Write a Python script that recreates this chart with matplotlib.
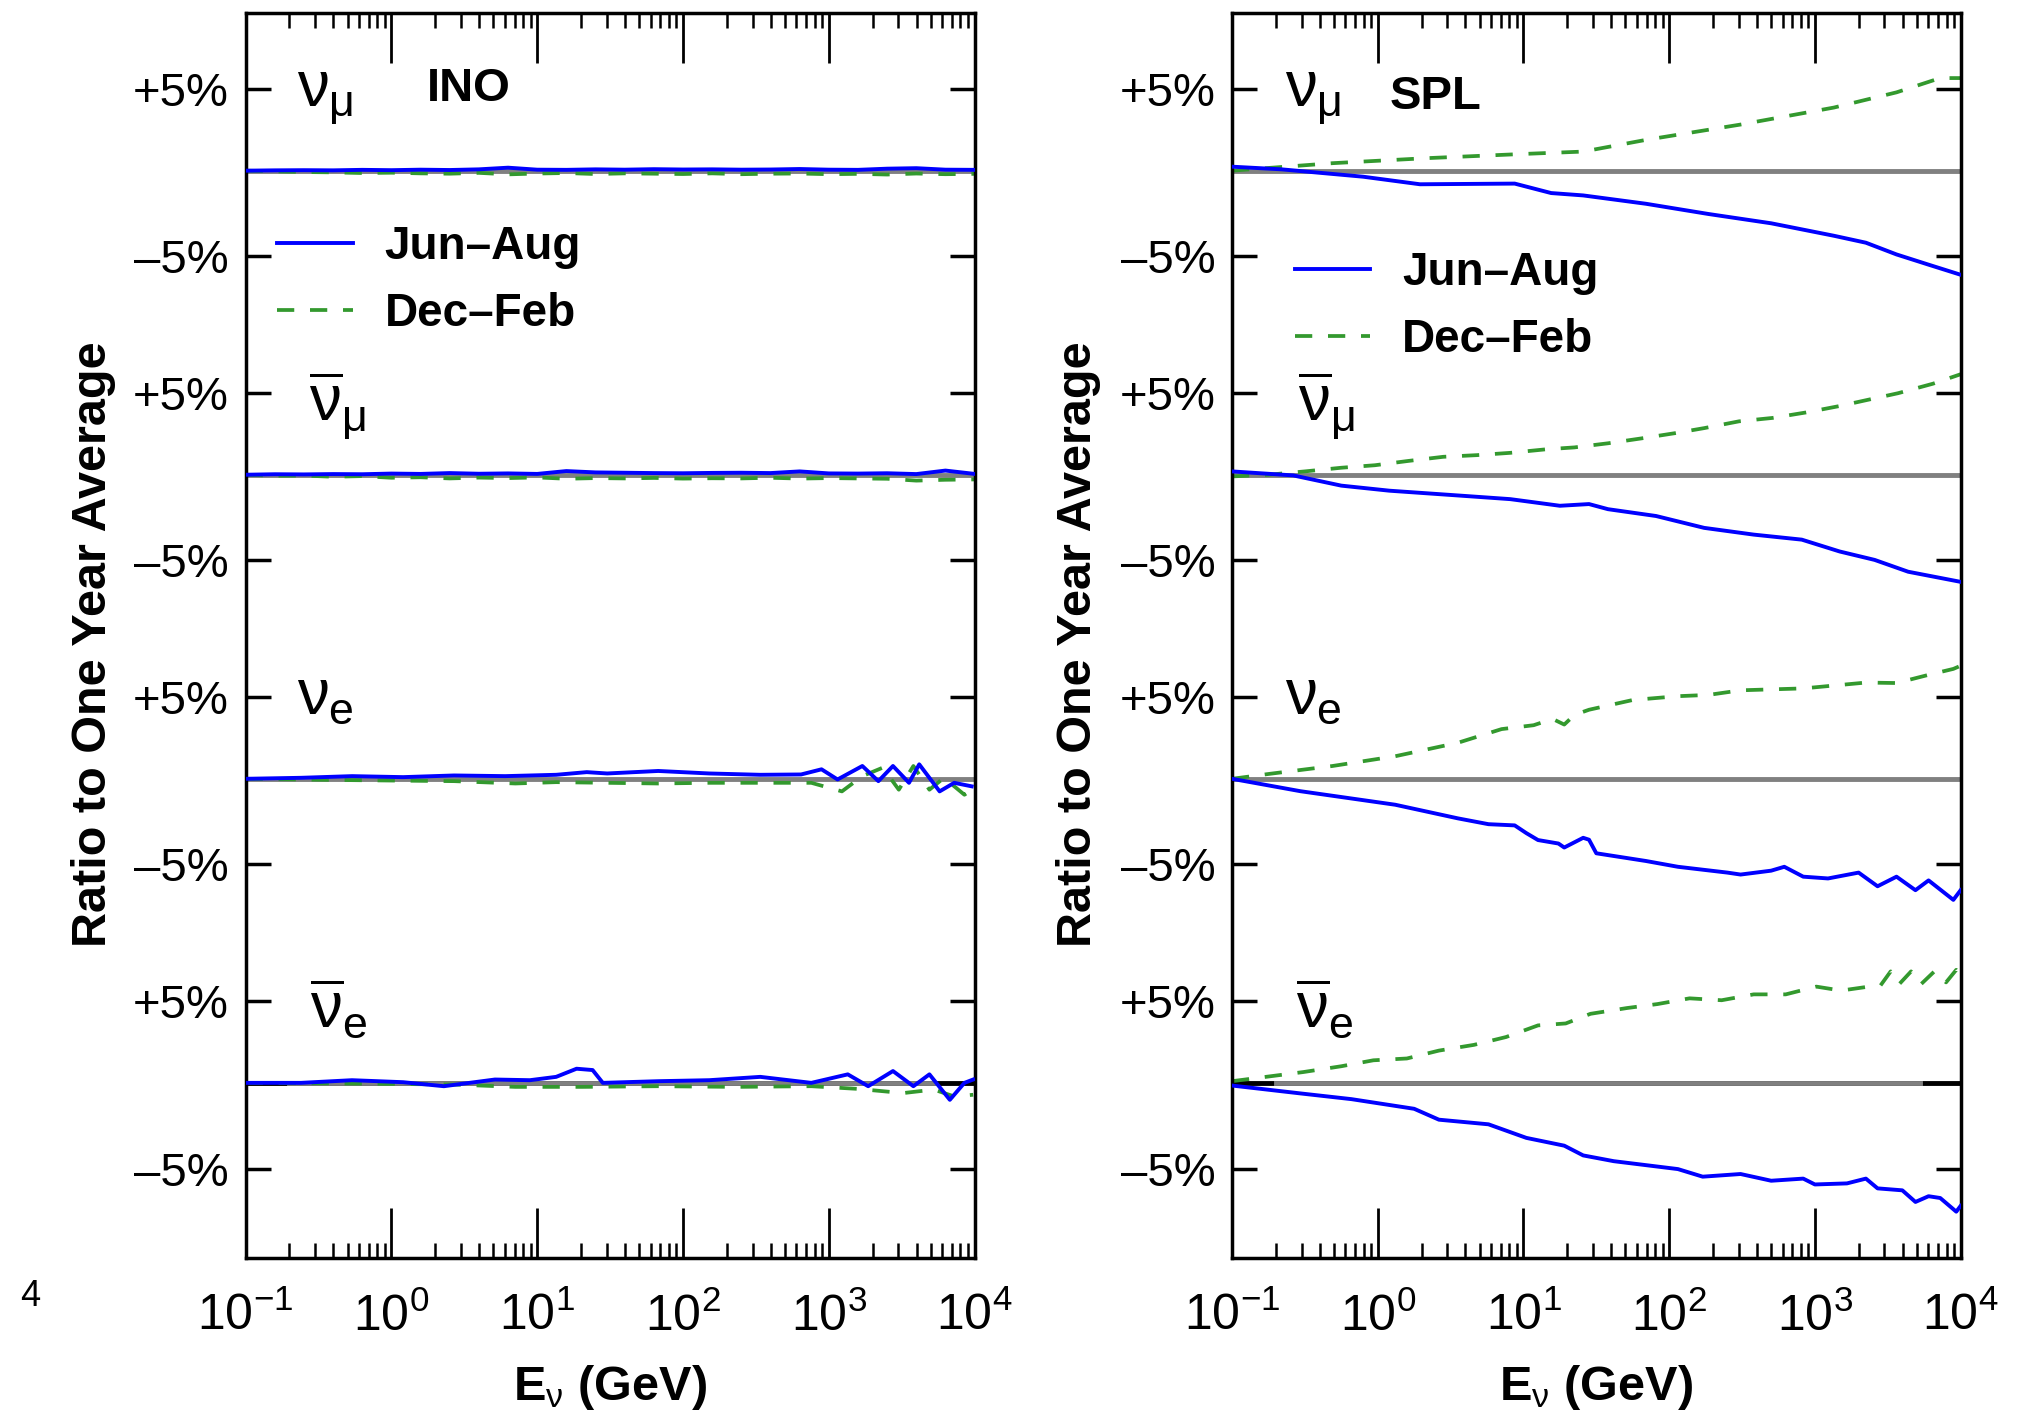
import numpy as np
import matplotlib
matplotlib.use("Agg")
import matplotlib.pyplot as plt
import matplotlib.transforms as mtransforms
from matplotlib.ticker import LogLocator

# x values are log10(E / GeV), y values are % deviation from the one year average
# ---------------- INO ----------------
ino_grid = [-1.0, -0.8, -0.6, -0.4, -0.2, 0.0, 0.2, 0.4, 0.6, 0.8, 1.0, 1.2, 1.4,
            1.6, 1.8, 2.0, 2.2, 2.4, 2.6, 2.8, 3.0, 3.2, 3.4, 3.6, 3.8, 4.0]
ino_numu_jun = [0.00, 0.02, 0.03, 0.02, 0.05, 0.03, 0.06, 0.04, 0.08, 0.18, 0.06, 0.05, 0.08,
                0.06, 0.09, 0.07, 0.08, 0.06, 0.07, 0.10, 0.06, 0.05, 0.12, 0.15, 0.06, 0.05]
ino_numu_dec = [0.00, -0.04, -0.08, -0.10, -0.14, -0.12, -0.16, -0.18, -0.13, -0.22, -0.17, -0.14, -0.20,
                -0.16, -0.18, -0.20, -0.16, -0.21, -0.18, -0.17, -0.21, -0.19, -0.23, -0.17, -0.21, -0.19]
ino_numubar_jun = [0.00, 0.03, 0.02, 0.04, 0.03, 0.07, 0.05, 0.10, 0.06, 0.08, 0.05, 0.22, 0.14,
                   0.12, 0.10, 0.09, 0.11, 0.12, 0.10, 0.20, 0.08, 0.07, 0.09, 0.04, 0.25, 0.05]
ino_numubar_dec = [0.00, -0.06, -0.05, -0.12, -0.08, -0.18, -0.15, -0.22, -0.17, -0.20, -0.16, -0.24, -0.20,
                   -0.22, -0.19, -0.23, -0.21, -0.22, -0.18, -0.23, -0.20, -0.22, -0.24, -0.35, -0.30, -0.28]

ino_nue_jun_x = [-1.0, -0.62, -0.27, 0.08, 0.43, 0.78, 1.13, 1.34, 1.48, 1.83, 2.18, 2.53, 2.81,
                 2.95, 3.06, 3.23, 3.34, 3.44, 3.55, 3.62, 3.76, 3.86, 3.98]
ino_nue_jun_y = [0.0, 0.06, 0.16, 0.10, 0.20, 0.16, 0.24, 0.40, 0.32, 0.47, 0.32, 0.24, 0.26,
                 0.57, -0.04, 0.77, -0.14, 0.77, -0.24, 0.87, -0.75, -0.24, -0.45]
ino_nue_dec_x = [-1.0, -0.27, 0.43, 0.85, 1.13, 1.48, 1.83, 2.18, 2.53, 2.88, 3.09, 3.23, 3.37,
                 3.48, 3.58, 3.69, 3.79, 3.93, 3.98]
ino_nue_dec_y = [0.0, -0.08, -0.14, -0.28, -0.20, -0.24, -0.28, -0.24, -0.24, -0.24, -0.75, 0.16, 0.67,
                 -0.65, 0.77, -0.65, 0.06, -0.95, -0.65]

ino_nuebar_jun_x = [-1.0, -0.62, -0.27, 0.08, 0.36, 0.71, 0.95, 1.13, 1.27, 1.38, 1.45, 1.83, 2.18,
                    2.53, 2.88, 3.13, 3.27, 3.44, 3.58, 3.69, 3.83, 3.93, 3.99]
ino_nuebar_jun_y = [0.0, 0.0, 0.16, 0.04, -0.20, 0.20, 0.16, 0.36, 0.85, 0.77, 0.0, 0.10, 0.16,
                    0.36, 0.0, 0.51, -0.20, 0.71, -0.20, 0.51, -1.01, 0.0, 0.20]
ino_nuebar_dec_x = [-1.0, -0.27, 0.43, 0.85, 1.31, 1.83, 2.36, 2.88, 3.20, 3.51, 3.72, 3.86, 3.99]
ino_nuebar_dec_y = [0.0, -0.04, -0.10, -0.24, -0.24, -0.20, -0.24, -0.20, -0.36, -0.61, -0.40, -0.81, -0.71]

# ---------------- SPL ----------------
spl_numu_jun_x = [-1.0, -0.66, -0.10, 0.29, 0.94, 1.19, 1.41, 1.84, 2.27, 2.70, 3.13, 3.35, 3.56, 3.78, 4.0]
spl_numu_jun_y = [0.24, 0.08, -0.36, -0.81, -0.77, -1.33, -1.47, -1.96, -2.56, -3.10, -3.82, -4.22, -4.89, -5.47, -6.04]
spl_numu_dec_x = [-1.0, -0.31, 0.33, 0.98, 1.41, 1.84, 2.49, 3.13, 3.56, 3.86, 4.0]
spl_numu_dec_y = [0.0, 0.45, 0.75, 1.0, 1.15, 1.86, 2.8, 3.85, 4.8, 5.7, 5.7]

spl_numubar_jun_x = [-1.0, -0.58, -0.25, 0.08, 0.58, 0.91, 1.25, 1.45, 1.58, 1.91, 2.24, 2.58, 2.91,
                     3.17, 3.41, 3.64, 4.0]
spl_numubar_jun_y = [0.2, -0.04, -0.65, -0.95, -1.25, -1.45, -1.84, -1.74, -2.04, -2.44, -3.13, -3.52, -3.81,
                     -4.49, -4.97, -5.64, -6.21]
spl_numubar_dec_x = [-1.0, -0.75, -0.5, -0.25, -0.02, 0.21, 0.45, 0.68, 0.91, 1.15, 1.35, 1.58, 1.81,
                     2.04, 2.24, 2.48, 2.71, 2.94, 3.17, 3.37, 3.57, 3.81, 4.0]
spl_numubar_dec_y = [-0.1, 0.0, 0.2, 0.42, 0.57, 0.83, 1.08, 1.18, 1.32, 1.53, 1.65, 1.9, 2.2,
                     2.52, 2.83, 3.25, 3.46, 3.8, 4.2, 4.6, 5.0, 5.6, 6.2]

spl_nue_jun_x = [-1.0, -0.53, 0.12, 0.55, 0.76, 0.94, 1.02, 1.10, 1.24, 1.28, 1.41, 1.45, 1.50, 1.84,
                 2.06, 2.40, 2.49, 2.70, 2.79, 2.92, 3.09, 3.30, 3.43, 3.56, 3.69, 3.78, 3.95, 4.0]
spl_nue_jun_y = [0.0, -0.74, -1.54, -2.34, -2.68, -2.75, -3.20, -3.60, -3.80, -4.03, -3.47, -3.58, -4.36, -4.80,
                 -5.13, -5.46, -5.57, -5.35, -5.13, -5.69, -5.79, -5.46, -6.23, -5.69, -6.45, -5.90, -6.99, -6.45]
spl_nue_dec_x = [-1.0, -0.74, -0.31, 0.12, 0.55, 0.85, 1.07, 1.20, 1.28, 1.35, 1.45, 1.75, 2.06, 2.27,
                 2.49, 2.92, 3.35, 3.56, 3.78, 3.95, 4.0]
spl_nue_dec_y = [0.0, 0.30, 0.77, 1.36, 2.18, 3.02, 3.26, 3.65, 3.30, 3.90, 4.22, 4.83, 5.07, 5.15,
                 5.44, 5.56, 5.93, 5.90, 6.42, 6.80, 7.00]

spl_nuebar_jun_x = [-1.0, -0.53, -0.18, 0.25, 0.42, 0.76, 1.02, 1.28, 1.41, 1.62, 2.06, 2.23, 2.49,
                    2.70, 2.92, 3.0, 3.22, 3.35, 3.43, 3.60, 3.69, 3.78, 3.86, 3.97, 4.0]
spl_nuebar_jun_y = [-0.16, -0.63, -0.97, -1.54, -2.18, -2.45, -3.24, -3.69, -4.25, -4.58, -5.03, -5.46, -5.31,
                    -5.69, -5.57, -5.90, -5.84, -5.57, -6.12, -6.23, -6.88, -6.56, -6.66, -7.42, -7.10]
spl_nuebar_dec_x = [-1.0, -0.51, -0.25, -0.03, 0.20, 0.42, 0.66, 0.88, 1.10, 1.29, 1.46, 1.71, 1.92,
                    2.14, 2.36, 2.58, 2.80, 3.01, 3.18, 3.37, 3.45, 3.52, 3.58, 3.66, 3.73, 3.82,
                    3.90, 3.97, 4.0]
spl_nuebar_dec_y = [0.1, 0.65, 1.0, 1.36, 1.47, 1.95, 2.3, 2.78, 3.5, 3.62, 4.22, 4.58, 4.83,
                    5.19, 5.07, 5.44, 5.44, 5.93, 5.68, 5.93, 6.0, 6.9, 6.1, 6.9, 6.1, 6.9,
                    6.2, 7.0, 6.6]

flavour_labels = [r"$\nu_{\mu}$", r"$\overline{\nu}_{\mu}$", r"$\nu_{e}$", r"$\overline{\nu}_{e}$"]
season_labels = ["Jun\u2013Aug", "Dec\u2013Feb"]

# ---------------- style ----------------
font = "Liberation Sans"
plt.rcParams["font.family"] = [font, "DejaVu Sans"]
plt.rcParams["mathtext.fontset"] = "custom"
plt.rcParams["mathtext.rm"] = font
plt.rcParams["mathtext.it"] = font
plt.rcParams["mathtext.bf"] = font + ":bold"
plt.rcParams["mathtext.sf"] = font

blue = "#0000ff"
green = "#33992e"
grey = "#808080"

offsets = [0.0, -0.182, -0.364, -0.546]   # log-ratio offset of each flavour row
ylims = (-0.651, 0.0944)

fig = plt.figure(figsize=(20.33, 14.10), dpi=100)
ax_ino = fig.add_axes([0.1208, 0.1076, 0.3586, 0.8832])
ax_spl = fig.add_axes([0.6060, 0.1076, 0.3584, 0.8832])


def to_y(vals, row):
    return offsets[row] + np.log(1 + np.asarray(vals) / 100.0)


def setup(ax, rows, site, site_xy, nu_x, leg_xy):
    for i, (jx, jy, dx, dy) in enumerate(rows):
        if i == 3:
            ax.axhline(offsets[i], color="black", lw=3.5, zorder=1)
            ax.axhline(offsets[i], xmin=0.06, xmax=0.944, color=grey, lw=3.5, zorder=1.1)
        else:
            ax.axhline(offsets[i], color=grey, lw=3.5, zorder=1)
        g, = ax.plot(10 ** np.asarray(dx), to_y(dy, i), color=green, lw=2.7,
                     ls="--", dashes=(4.6, 4.2), zorder=2)
        b, = ax.plot(10 ** np.asarray(jx), to_y(jy, i), color=blue, lw=2.8, zorder=3)
        if i == 0:
            handles = [b, g]

    ax.set_xscale("log")
    ax.set_xlim(0.1, 1e4)
    ax.set_ylim(*ylims)
    ax.xaxis.set_major_locator(LogLocator(base=10, numticks=12))
    ax.xaxis.set_minor_locator(LogLocator(base=10, subs=np.arange(2, 10), numticks=30))

    yt, yl = [], []
    for off in offsets:
        yt += [off + np.log(1.05), off + np.log(0.95)]
        yl += ["+5%", "\u20135%"]
    ax.set_yticks(yt)
    ax.set_yticklabels(yl)

    ax.tick_params(axis="y", which="major", direction="in", length=18, width=2.5,
                   left=True, right=True, labelsize=34, pad=12)
    ax.tick_params(axis="x", which="major", direction="in", length=36, width=2,
                   top=True, bottom=True, labelsize=36, pad=25)
    ax.tick_params(axis="x", which="minor", direction="in", length=11, width=1.8,
                   top=True, bottom=True)
    for sp in ax.spines.values():
        sp.set_linewidth(2.5)

    trans = mtransforms.blended_transform_factory(ax.transAxes, ax.transData)
    for i, lab in enumerate(flavour_labels):
        drop = 0.0159 if i % 2 else 0.0099
        ax.text(nu_x[i], offsets[i] + np.log(1.05) - drop, lab, transform=trans,
                fontsize=46, ha="left", va="baseline")
    ax.text(site_xy[0], offsets[0] + np.log(1.05) + site_xy[1], site, transform=trans,
            fontsize=34, fontweight="bold", ha="left", va="center")

    ax.legend(handles, season_labels, loc="upper left", bbox_to_anchor=leg_xy,
              frameon=False, borderpad=0, borderaxespad=0, handlelength=1.65,
              handletextpad=0.7, labelspacing=0.5,
              prop={"weight": "bold", "size": 33})


ino_rows = [
    (ino_grid, ino_numu_jun, ino_grid, ino_numu_dec),
    (ino_grid, ino_numubar_jun, ino_grid, ino_numubar_dec),
    (ino_nue_jun_x, ino_nue_jun_y, ino_nue_dec_x, ino_nue_dec_y),
    (ino_nuebar_jun_x, ino_nuebar_jun_y, ino_nuebar_dec_x, ino_nuebar_dec_y),
]
spl_rows = [
    (spl_numu_jun_x, spl_numu_jun_y, spl_numu_dec_x, spl_numu_dec_y),
    (spl_numubar_jun_x, spl_numubar_jun_y, spl_numubar_dec_x, spl_numubar_dec_y),
    (spl_nue_jun_x, spl_nue_jun_y, spl_nue_dec_x, spl_nue_dec_y),
    (spl_nuebar_jun_x, spl_nuebar_jun_y, spl_nuebar_dec_x, spl_nuebar_dec_y),
]

setup(ax_ino, ino_rows, "INO", (0.249, 0.0), [0.070, 0.087, 0.0706, 0.088], (0.0432, 0.8295))
setup(ax_spl, spl_rows, "SPL", (0.217, -0.0045), [0.073, 0.090, 0.073, 0.0875], (0.0858, 0.8085))

# axis titles
for xc, yc in [(0.300, 0.0459), (0.785, 0.5306)]:
    fig.text(xc, 0.0071, r"E$_{\nu}$ (GeV)", ha="center", va="baseline",
             fontsize=35, fontweight="bold")
    fig.text(yc, 0.5433, "Ratio to One Year Average", rotation=90, ha="center",
             va="center", fontsize=35, fontweight="bold")

# clipped exponent left over at the figure edge
fig.text(0.0148, 0.0737, "4", ha="center", va="baseline", fontsize=26)

fig.savefig("out.png", dpi=100)
